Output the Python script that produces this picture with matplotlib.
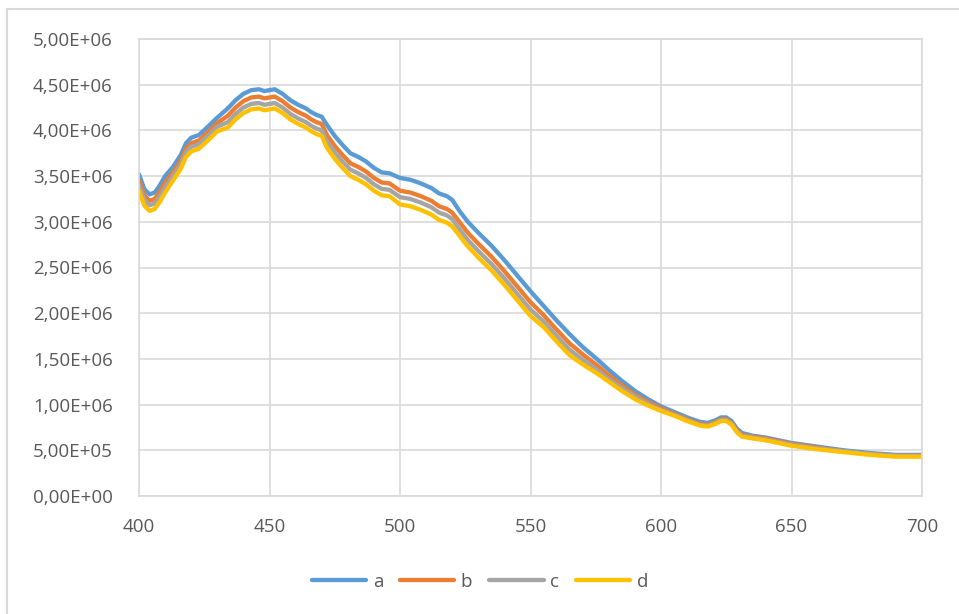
import matplotlib.pyplot as plt
from matplotlib.patches import Rectangle
from matplotlib.ticker import FuncFormatter

wavelength = [400, 402, 404, 406, 408, 410, 413, 416, 418, 420, 423, 426, 430, 434, 437,
              440, 443, 446, 448, 450, 452, 455, 458, 461, 464, 466, 468, 470, 472, 475,
              478, 481, 484, 487, 490, 493, 496, 500, 504, 508, 512, 515, 518, 520, 523,
              526, 530, 535, 540, 545, 550, 555, 560, 565, 570, 575, 580, 585, 590, 595,
              600, 605, 610, 615, 618, 621, 623, 625, 627, 629, 631, 635, 640, 645, 650,
              660, 670, 680, 690, 700]

# values in units of 1e6
a = [3.52, 3.36, 3.30, 3.32, 3.40, 3.50, 3.60, 3.73, 3.86, 3.92, 3.95, 4.03, 4.14, 4.24, 4.33,
     4.40, 4.44, 4.45, 4.43, 4.44, 4.45, 4.40, 4.33, 4.28, 4.24, 4.20, 4.17, 4.15, 4.06, 3.94,
     3.84, 3.75, 3.71, 3.66, 3.59, 3.54, 3.53, 3.48, 3.46, 3.42, 3.37, 3.31, 3.28, 3.24, 3.11,
     3.00, 2.88, 2.74, 2.58, 2.41, 2.24, 2.08, 1.92, 1.77, 1.63, 1.51, 1.38, 1.26, 1.15, 1.06,
     0.98, 0.92, 0.86, 0.81, 0.80, 0.83, 0.86, 0.86, 0.82, 0.74, 0.69, 0.66, 0.64, 0.61, 0.58,
     0.54, 0.50, 0.47, 0.45, 0.45]
b = [3.45, 3.29, 3.23, 3.25, 3.33, 3.43, 3.54, 3.67, 3.80, 3.86, 3.89, 3.97, 4.08, 4.16, 4.25,
     4.32, 4.36, 4.37, 4.35, 4.36, 4.37, 4.32, 4.25, 4.20, 4.16, 4.12, 4.09, 4.07, 3.95, 3.83,
     3.73, 3.64, 3.60, 3.55, 3.48, 3.43, 3.42, 3.34, 3.32, 3.28, 3.23, 3.17, 3.14, 3.10, 2.99,
     2.88, 2.76, 2.62, 2.46, 2.29, 2.12, 1.98, 1.82, 1.67, 1.55, 1.44, 1.32, 1.21, 1.11, 1.03,
     0.96, 0.90, 0.84, 0.79, 0.78, 0.81, 0.84, 0.84, 0.80, 0.72, 0.67, 0.65, 0.63, 0.60, 0.57,
     0.53, 0.49, 0.46, 0.44, 0.44]
c = [3.40, 3.24, 3.18, 3.20, 3.28, 3.38, 3.50, 3.63, 3.76, 3.82, 3.85, 3.93, 4.04, 4.09, 4.18,
     4.25, 4.29, 4.30, 4.28, 4.29, 4.30, 4.25, 4.18, 4.13, 4.09, 4.05, 4.02, 4.00, 3.88, 3.76,
     3.66, 3.57, 3.53, 3.48, 3.41, 3.36, 3.35, 3.27, 3.25, 3.21, 3.16, 3.10, 3.07, 3.03, 2.91,
     2.80, 2.68, 2.54, 2.38, 2.21, 2.04, 1.91, 1.75, 1.60, 1.49, 1.39, 1.28, 1.18, 1.09, 1.01,
     0.94, 0.89, 0.83, 0.78, 0.77, 0.80, 0.83, 0.83, 0.79, 0.71, 0.66, 0.64, 0.62, 0.59, 0.56,
     0.52, 0.49, 0.46, 0.44, 0.44]
d = [3.34, 3.18, 3.12, 3.14, 3.22, 3.32, 3.45, 3.58, 3.71, 3.77, 3.80, 3.88, 3.99, 4.03, 4.12,
     4.19, 4.23, 4.24, 4.22, 4.23, 4.24, 4.19, 4.12, 4.07, 4.03, 3.99, 3.96, 3.94, 3.81, 3.69,
     3.59, 3.50, 3.46, 3.41, 3.34, 3.29, 3.28, 3.19, 3.17, 3.13, 3.08, 3.02, 2.99, 2.95, 2.84,
     2.73, 2.61, 2.47, 2.31, 2.14, 1.97, 1.85, 1.69, 1.54, 1.44, 1.35, 1.25, 1.15, 1.06, 0.99,
     0.93, 0.88, 0.82, 0.77, 0.76, 0.79, 0.82, 0.82, 0.78, 0.70, 0.65, 0.63, 0.61, 0.58, 0.55,
     0.51, 0.48, 0.45, 0.43, 0.43]

series = [('a', a, '#5B9BD5'), ('b', b, '#ED7D31'), ('c', c, '#A5A5A5'), ('d', d, '#FFC000')]

plt.rcParams['font.family'] = ['Open Sans', 'DejaVu Sans']
txt = '#595959'
grid = '#D9D9D9'

fig = plt.figure(figsize=(9.59, 6.14), dpi=100)
fig.patches.append(Rectangle((7 / 959, -0.2), 2, (614 - 9) / 614 + 0.2,
                             transform=fig.transFigure, fill=False,
                             edgecolor='#D9D9D9', linewidth=1.5))
ax = fig.add_axes([139 / 959, 118 / 614, 783 / 959, 457 / 614])

for name, vals, col in series:
    ax.plot(wavelength, [v * 1e6 for v in vals], color=col, linewidth=3.1,
            label=name, solid_capstyle='round', solid_joinstyle='round')

ax.set_xlim(400, 700)
ax.set_ylim(0, 5e6)
ax.set_xticks(range(400, 701, 50))
ax.set_yticks([i * 5e5 for i in range(11)])
ax.yaxis.set_major_formatter(FuncFormatter(
    lambda v, p: ('%.2E' % v).replace('.', ',')))
ax.grid(True, color=grid, linewidth=1.2)
ax.set_axisbelow(True)
for s in ax.spines.values():
    s.set_color(grid)
    s.set_linewidth(1.2)
ax.tick_params(length=0, labelsize=13.5, labelcolor=txt)
ax.tick_params(axis='y', pad=19)
ax.tick_params(axis='x', pad=16)

ax.legend(loc='center', bbox_to_anchor=(480 / 959, 32 / 614),
          bbox_transform=fig.transFigure, ncol=4, frameon=False,
          fontsize=13.5, labelcolor=txt, handlelength=2.9,
          columnspacing=0.9, handletextpad=0.35)

fig.savefig('out.png', dpi=100)
